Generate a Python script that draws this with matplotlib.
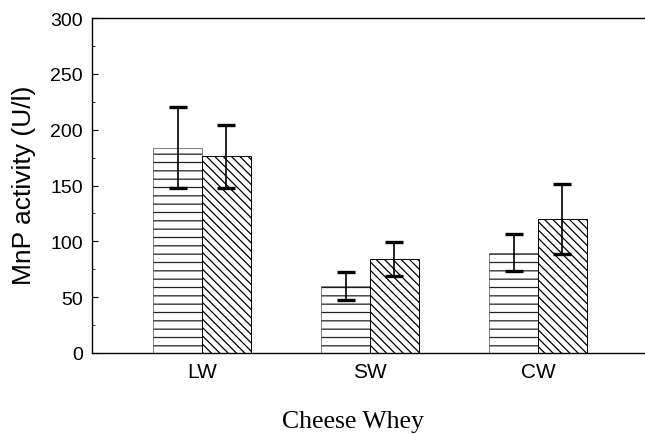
import matplotlib
matplotlib.use("Agg")
import matplotlib.pyplot as plt
import numpy as np
from matplotlib.ticker import MultipleLocator

categories = ["LW", "SW", "CW"]
series_a = [184, 60, 90]
series_a_err = [36, 12.5, 17]
series_b = [176, 84, 120]
series_b_err = [28, 15, 31]

plt.rcParams["font.family"] = ["Liberation Sans", "DejaVu Sans"]
plt.rcParams["hatch.linewidth"] = 0.9

fig = plt.figure(figsize=(6.45, 4.35), dpi=100)
W, H = 645, 435
left, right, top, bottom = 92, 660, 19, 354
ax = fig.add_axes([left / W, 1 - bottom / H, (right - left) / W, (bottom - top) / H])

x = np.arange(len(categories))
width = 0.29

ax.bar(x - width / 2, series_a, width, color="white", edgecolor="#222222",
       linewidth=0.4, hatch="--", zorder=2)
ax.bar(x + width / 2, series_b, width, color="white", edgecolor="black",
       linewidth=0.7, hatch="\\\\\\\\", zorder=2)

err_style = dict(fmt="none", ecolor="black", elinewidth=1.2, capsize=6.5,
                 capthick=2.4, zorder=3)
ax.errorbar(x - width / 2, series_a, yerr=series_a_err, **err_style)
ax.errorbar(x + width / 2, series_b, yerr=series_b_err, **err_style)

ax.set_ylim(0, 300)
ax.set_xlim(-0.655, (right - 202) / 168)
ax.yaxis.set_major_locator(MultipleLocator(50))
ax.yaxis.set_minor_locator(MultipleLocator(25))
ax.tick_params(axis="y", which="major", direction="in", length=4, width=0.8,
               labelsize=14, pad=6.5)
ax.tick_params(axis="y", which="minor", direction="in", length=2.5, width=0.6)
ax.set_xticks(x)
ax.set_xticklabels(categories)
ax.tick_params(axis="x", length=0, labelsize=15, pad=6.5)

ax.spines["right"].set_visible(False)
for s in ("left", "top", "bottom"):
    ax.spines[s].set_linewidth(1.0)

ax.set_ylabel("MnP activity (U/l)", fontsize=19)
ax.yaxis.set_label_coords(24 / W, 1 - 185 / H, transform=fig.transFigure)
ax.yaxis.label.set_va("center")
fig.text(353 / W, 1 - 428 / H, "Cheese Whey", ha="center", va="baseline",
         fontsize=18.5, family=["Liberation Serif", "DejaVu Serif"])

fig.savefig("out.png", dpi=100)
